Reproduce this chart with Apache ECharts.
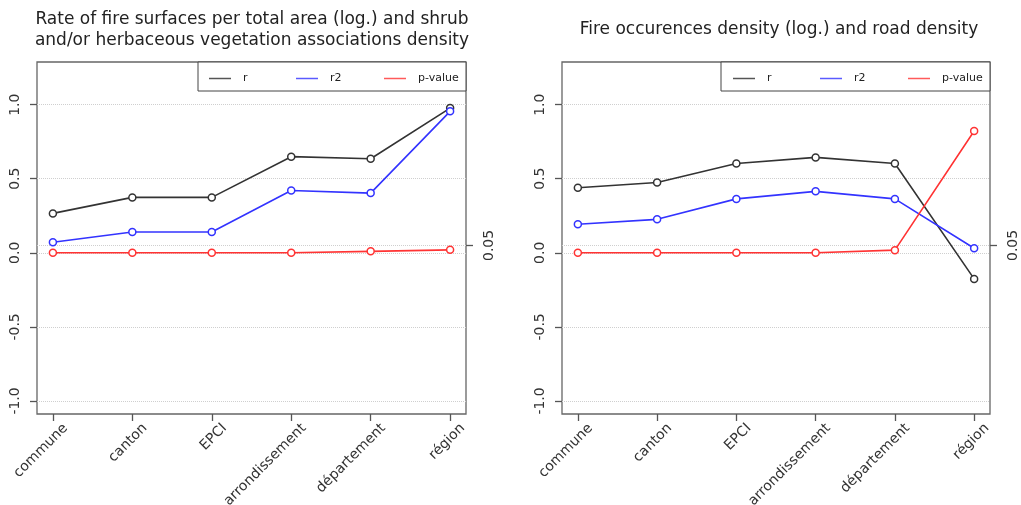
<!DOCTYPE html>
<html>
<head>
<meta charset="utf-8">
<script src="https://cdn.jsdelivr.net/npm/echarts@6/dist/echarts.min.js"></script>
<style>html,body{margin:0;padding:0;background:#fff;}#c{width:1021px;height:505px;}</style>
</head>
<body>
<div id="c"></div>
<script>
const categories = ['commune', 'canton', 'EPCI', 'arrondissement', 'département', 'région'];
const seriesNames = ['r', 'r2', 'p-value'];
const leftR  = [0.266, 0.374, 0.374, 0.649, 0.635, 0.977];
const leftR2 = [0.071, 0.140, 0.140, 0.421, 0.403, 0.955];
const leftP  = [0.000, 0.000, 0.000, 0.000, 0.010, 0.020];
const rightR  = [0.439, 0.475, 0.603, 0.644, 0.603, -0.176];
const rightR2 = [0.193, 0.226, 0.364, 0.415, 0.364, 0.031];
const rightP  = [0.000, 0.000, 0.000, 0.000, 0.018, 0.822];
const yTicks = [-1, -0.5, 0, 0.5, 1];
const pTicks = [0.05];
const gridValues = [-1, -0.5, 0, 0.5, 1, 0.05];
const titles = [
  'Rate of fire surfaces per total area (log.) and shrub\nand/or herbaceous vegetation associations density',
  'Fire occurences density (log.) and road density'
];

const FONT = 'DejaVu Sans';
const lineColors = ['#333333', '#3333ff', '#ff3333'];
const legendColors = ['#555555', '#5a5aff', '#ff5a5a'];
const xTickVals = categories.map((c, i) => i + 1);
const X_MIN = 0.8, X_MAX = 6.2;
const LABEL_SHIFT = 0.16; // label offset (in category units) to the right of the tick, as in the reference

const grids = [
  {left: 37, top: 62, width: 429, height: 352},
  {left: 562, top: 62, width: 428, height: 352}
];
const data = [[leftR, leftR2, leftP], [rightR, rightR2, rightP]];

const option = {
  animation: false,
  backgroundColor: '#fff',
  textStyle: {fontFamily: FONT},
  grid: grids.map(g => Object.assign({show: true, borderColor: '#666', borderWidth: 1.3, backgroundColor: 'transparent', containLabel: false, outerBoundsMode: 'none'}, g)),
  xAxis: [],
  yAxis: [],
  series: [],
  legend: [],
  graphic: []
};

grids.forEach((g, gi) => {
  // main x axis: ticks only
  option.xAxis.push({
    type: 'value', gridIndex: gi, min: X_MIN, max: X_MAX,
    axisLine: {show: false, onZero: false}, splitLine: {show: false},
    axisTick: {show: true, customValues: xTickVals, length: 7, lineStyle: {color: '#555', width: 1.3}},
    axisLabel: {show: false}
  });
});
grids.forEach((g, gi) => {
  // label-only x axis, slightly shifted so rotated labels sit like the reference
  option.xAxis.push({
    type: 'value', gridIndex: gi, min: X_MIN - LABEL_SHIFT, max: X_MAX - LABEL_SHIFT, position: 'bottom',
    axisLine: {show: false, onZero: false}, splitLine: {show: false}, axisTick: {show: false},
    axisLabel: {customValues: xTickVals, formatter: v => categories[Math.round(v) - 1] || '',
      rotate: 45, margin: 12, fontSize: 14, fontFamily: FONT, color: '#333'}
  });
});

grids.forEach((g, gi) => {
  option.yAxis.push({
    type: 'value', gridIndex: gi, min: -1.088, max: 1.288, position: 'left',
    axisLine: {show: false, onZero: false}, splitLine: {show: false},
    axisTick: {show: true, customValues: yTicks, length: 7, lineStyle: {color: '#555', width: 1.3}},
    axisLabel: {customValues: yTicks, formatter: v => v.toFixed(1), rotate: 90, margin: 15,
      fontSize: 14, fontFamily: FONT, color: '#333'}
  });
  option.yAxis.push({
    type: 'value', gridIndex: gi, min: -1.088, max: 1.288, position: 'right',
    axisLine: {show: false, onZero: false}, splitLine: {show: false},
    axisTick: {show: true, customValues: pTicks, length: 7, lineStyle: {color: '#555', width: 1.3}},
    axisLabel: {customValues: pTicks, formatter: v => String(v), rotate: 90, margin: 16,
      fontSize: 14, fontFamily: FONT, color: '#333'}
  });
  data[gi].forEach((vals, si) => {
    const s = {
      type: 'line', name: seriesNames[si], xAxisIndex: gi, yAxisIndex: gi * 2,
      data: vals.map((v, i) => [i + 1, v]),
      symbol: 'circle', symbolSize: 7,
      itemStyle: {color: '#fff', borderColor: lineColors[si], borderWidth: 1.5},
      lineStyle: {color: lineColors[si], width: 1.6},
      emphasis: {disabled: true}, silent: true, z: 3 + si
    };
    if (si === 0) {
      s.markLine = {
        silent: true, symbol: 'none', label: {show: false},
        lineStyle: {type: 'dotted', color: '#cfcfcf', width: 1},
        data: gridValues.map(v => ({yAxis: v})), z: 1
      };
    }
    option.series.push(s);
  });
});

// legends
const legendIconX = [[209, 296, 384], [733, 820, 908]];
legendIconX.forEach((xs, gi) => {
  xs.forEach((x, si) => {
    option.legend.push({
      left: x, top: 73, padding: 0, itemGap: 0, selectedMode: false,
      data: [seriesNames[si]], icon: 'rect', itemWidth: 22, itemHeight: 1.5,
      itemStyle: {color: legendColors[si], borderWidth: 0},
      textStyle: {fontSize: 11, fontFamily: FONT, color: '#222', padding: [0, 0, 0, 7]}
    });
  });
});
option.graphic.push(
  {type: 'rect', shape: {x: 198, y: 62, width: 268, height: 29}, style: {fill: '#fff', stroke: '#444', lineWidth: 1}, z: 0, silent: true},
  {type: 'rect', shape: {x: 721, y: 62, width: 269, height: 29}, style: {fill: '#fff', stroke: '#444', lineWidth: 1}, z: 0, silent: true},
  {type: 'text', x: 252, y: 9, style: {text: titles[0], textAlign: 'center', textVerticalAlign: 'top', font: '17px "DejaVu Sans"', lineHeight: 21, fill: '#222'}, silent: true},
  {type: 'text', x: 779, y: 19, style: {text: titles[1], textAlign: 'center', textVerticalAlign: 'top', font: '17px "DejaVu Sans"', lineHeight: 21, fill: '#222'}, silent: true}
);

const chart = echarts.init(document.getElementById('c'), null, {renderer: 'canvas'});
chart.setOption(option);
</script>
</body>
</html>
